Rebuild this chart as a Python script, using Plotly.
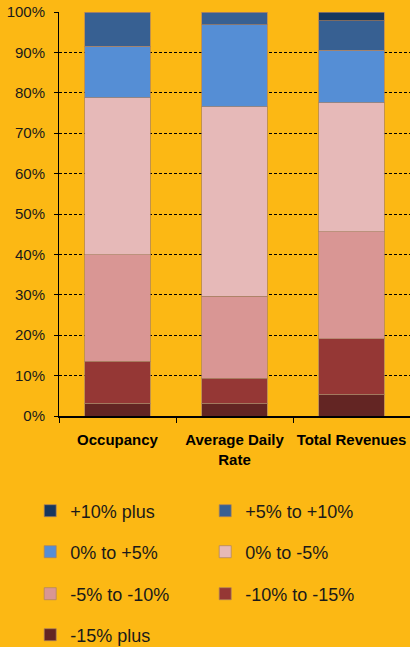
import plotly.graph_objects as go

categories = ["Occupancy", "Average Daily<br>Rate", "Total Revenues"]

series_names = ["-15% plus", "-10% to -15%", "-5% to -10%", "0% to -5%",
                "0% to +5%", "+5% to +10%", "+10% plus"]
neg15_plus = [3.1, 3.1, 5.4]
neg10_to_15 = [10.4, 6.3, 13.7]
neg5_to_10 = [26.4, 20.2, 26.5]
zero_to_neg5 = [38.9, 47.0, 32.0]
zero_to_pos5 = [12.7, 20.3, 12.9]
pos5_to_10 = [8.5, 3.1, 7.3]
pos10_plus = [0.0, 0.0, 2.2]
series_values = [neg15_plus, neg10_to_15, neg5_to_10, zero_to_neg5,
                 zero_to_pos5, pos5_to_10, pos10_plus]
colors = ["#632523", "#953735", "#D99694", "#E6B9B8", "#558ED5", "#376092", "#17375E"]
legend_of = ["legend4", "legend3", "legend3", "legend2", "legend2", "legend", "legend"]

BG = "#FCB814"
fig = go.Figure()
for name, vals, col, lg in zip(series_names, series_values, colors, legend_of):
    fig.add_trace(go.Bar(
        x=categories, y=vals, name=name, legend=lg,
        marker=dict(color=col, line=dict(color="rgba(170,130,100,0.7)", width=1)),
    ))

legend_font = dict(family="Liberation Sans, Arial, sans-serif", size=18, color="#1a1a1a")
row_y = [511, 552, 594, 635]
leg_common = dict(orientation="h", traceorder="reversed", entrywidth=130,
                  entrywidthmode="pixels", font=legend_font, bgcolor="rgba(0,0,0,0)",
                  xref="paper", yref="paper", x=-0.082, xanchor="left",
                  yanchor="middle", itemclick=False, itemdoubleclick=False)
legends = {}
for i, key in enumerate(["legend", "legend2", "legend3", "legend4"]):
    legends[key] = dict(leg_common, y=(416 - row_y[i]) / 404)

fig.update_layout(
    barmode="stack",
    bargap=0.444,
    width=410, height=647,
    margin=dict(l=59, r=0, t=12, b=231, autoexpand=False),
    paper_bgcolor=BG, plot_bgcolor=BG,
    font=dict(family="Liberation Sans, Arial, sans-serif", color="#1a1a1a"),
    xaxis=dict(
        showline=True, linecolor="black", linewidth=2,
        ticks="outside", tickson="boundaries", ticklen=5, tickcolor="black",
        tickfont=dict(size=15, family="Liberation Sans, Arial, sans-serif", color="black"),
        showgrid=False, tickprefix="<b>", ticksuffix="</b>", tickangle=0,
        automargin=False, ticklabelstandoff=9,
    ),
    yaxis=dict(
        range=[0, 100], dtick=10, ticksuffix="%",
        showline=True, linecolor="black", linewidth=1,
        ticks="outside", ticklen=4, tickcolor="black",
        showgrid=True, gridcolor="black", gridwidth=1, griddash="3px,2px",
        zeroline=False, automargin=False, ticklabelstandoff=6,
        tickfont=dict(size=15, color="#1a1a1a"),
    ),
    showlegend=True,
    **legends,
)
fig.write_html("out.html", config={"displayModeBar": False},
               post_script="document.body.style.margin='0';document.body.style.overflow='hidden';")
